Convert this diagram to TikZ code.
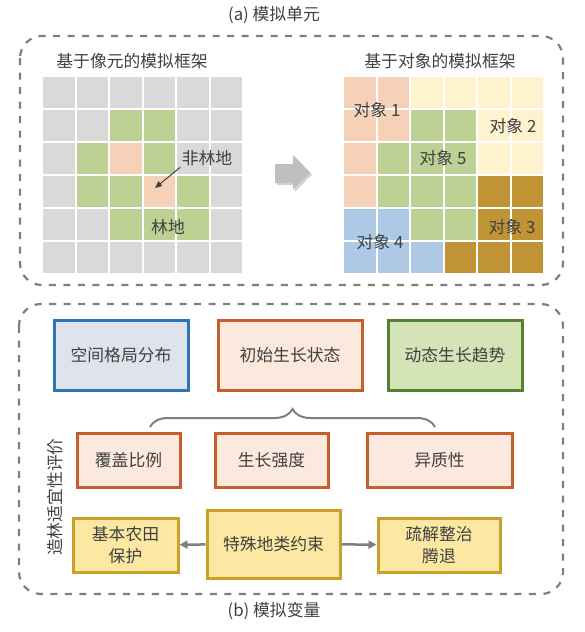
\documentclass[tikz,border=0pt]{standalone}
\usepackage{fontspec}
\setmainfont{Noto Sans CJK SC}
\usetikzlibrary{positioning,arrows.meta,decorations.pathreplacing,shadows}
\definecolor{txtGrey}{HTML}{404040}
\definecolor{frameGrey}{HTML}{7F7F7F}
\definecolor{blockGrey}{HTML}{BFBFBF}
% cell colours
\definecolor{cellD}{HTML}{D9D9D9}
\definecolor{cellG}{HTML}{BDD194}
\definecolor{cellP}{HTML}{F5D1B7}
\definecolor{cellY}{HTML}{FFF2CF}
\definecolor{cellB}{HTML}{ADC9E5}
\definecolor{cellO}{HTML}{C09434}
% box colours
\definecolor{bxBlue}{HTML}{2E75B6}
\definecolor{bxBlueF}{HTML}{DFE3EC}
\definecolor{bxOrange}{HTML}{C55F2D}
\definecolor{bxOrangeF}{HTML}{FBE9DE}
\definecolor{bxGreen}{HTML}{548235}
\definecolor{bxGreenF}{HTML}{D5E4B6}
\definecolor{bxGold}{HTML}{C9A02A}
\definecolor{bxGoldF}{HTML}{FCE8A2}
\newcommand{\txt}{\fontsize{16.8}{20}\selectfont}

\begin{document}
\begin{tikzpicture}[x=1pt, y=-1pt,
      frame/.style={draw=frameGrey, line width=2.2pt, dash pattern=on 7pt off 7.5pt, rounded corners=22pt},
      cell/.style={draw=white, line width=2pt},
      lbl/.style={font=\txt, text=txtGrey},
      box/.style={lbl, line width=3pt, inner sep=0pt, minimum height=54pt, align=center},
      ptr/.style={-{Triangle[length=7pt,width=6pt]}, draw=txtGrey, line width=1pt},
      ar/.style={-{Triangle[length=8pt,width=8pt]}, draw=frameGrey, line width=2.5pt}]
    \useasboundingbox (0,0) rectangle (585,632);
    % frames
    \draw[frame] (20,36) rectangle (563,285);
    \draw[frame] (19,304) rectangle (563,594);
    \node[lbl] (ta) at (274,15) {(a) 模拟单元};
    \node[lbl] (tb) at (274,611) {(b) 模拟变量};
    % pixel grid
    \node[lbl] (tpix) at (132,61) {基于像元的模拟框架};
    \foreach \row [count=\r from 0] in {{D,D,D,D,D,D},{D,D,G,G,D,D},{D,G,P,G,D,D},
        {D,G,G,P,G,D},{D,D,G,G,G,D},{D,D,D,D,D,D}}
      \foreach \c [count=\k from 0] in \row
        \fill[cell, fill=cell\c] (42+\k*33.5, 76+\r*33) rectangle ++(33.5,33);
    \node[lbl] (nonforest) at (207,158) {非林地};
    \node[lbl] (forest) at (168,227) {林地};
    \coordinate (pcell) at (155,188);
    \draw[ptr] ([xshift=2pt,yshift=2pt]nonforest.south west) -- (pcell);
    % block arrow
    \fill[blockGrey, drop shadow={shadow xshift=2pt, shadow yshift=-2pt, opacity=0.35}]
      (275,164) -- (293,164) -- (293,155) -- (310,172.5) -- (293,190) -- (293,183) -- (275,183) -- cycle;
    % object grid
    \node[lbl] (tobj) at (440,61) {基于对象的模拟框架};
    \foreach \row [count=\r from 0] in {{P,P,Y,Y,Y,Y},{P,P,G,G,Y,Y},{P,G,G,G,Y,Y},
        {P,G,G,G,O,O},{B,B,G,G,O,O},{B,B,B,O,O,O}}
      \foreach \c [count=\k from 0] in \row
        \fill[cell, fill=cell\c] (343+\k*33.5, 76+\r*33) rectangle ++(33.5,33);
    \node[lbl] (o1) at (377,110) {对象 1};
    \node[lbl] (o2) at (513,126) {对象 2};
    \node[lbl] (o5) at (443,158) {对象 5};
    \node[lbl] (o3) at (512,227) {对象 3};
    \node[lbl] (o4) at (380,242) {对象 4};
    % row 1: variable groups
    \node[box, draw=bxBlue, fill=bxBlueF, minimum width=134pt, minimum height=70pt] (space) at (121,355) {空间格局分布};
    \node[box, draw=bxOrange, fill=bxOrangeF, minimum width=144pt, minimum height=70pt] (init) at (290,355) {初始生长状态};
    \node[box, draw=bxGreen, fill=bxGreenF, minimum width=134pt, minimum height=70pt] (dyn) at (455,355) {动态生长趋势};
    % brace under initial state
    \coordinate (bl) at (150,427);
    \coordinate (br) at (435,427);
    \draw[decorate, decoration={brace, amplitude=18pt}, draw=frameGrey, line width=2pt] (bl) -- (br);
    % row 2: initial state details
    \node[box, draw=bxOrange, fill=bxOrangeF, minimum width=103pt] (cover) at (128.5,460) {覆盖比例};
    \node[box, draw=bxOrange, fill=bxOrangeF, minimum width=113pt] (inten) at (271.5,460) {生长强度};
    \node[box, draw=bxOrange, fill=bxOrangeF, minimum width=145pt] (hetero) at (439.5,460) {异质性};
    % row 3: land constraints
    \node[box, draw=bxGold, fill=bxGoldF, minimum width=133pt, minimum height=68pt] (special) at (273.5,544) {特殊地类约束};
    \node[box, draw=bxGold, fill=bxGoldF, minimum width=105pt, font=\fontsize{16.8}{22}\selectfont] (farm) at (125.5,545) {基本农田\\保护};
    \node[box, draw=bxGold, fill=bxGoldF, minimum width=122pt, font=\fontsize{16.8}{22}\selectfont] (relief) at (439,545) {疏解整治\\腾退};
    \draw[ar] (special) -- (farm);
    \draw[ar] (special) -- (relief);
    \node[lbl, rotate=90] (eval) at (55,497) {造林适宜性评价};
  \end{tikzpicture}
\end{document}
